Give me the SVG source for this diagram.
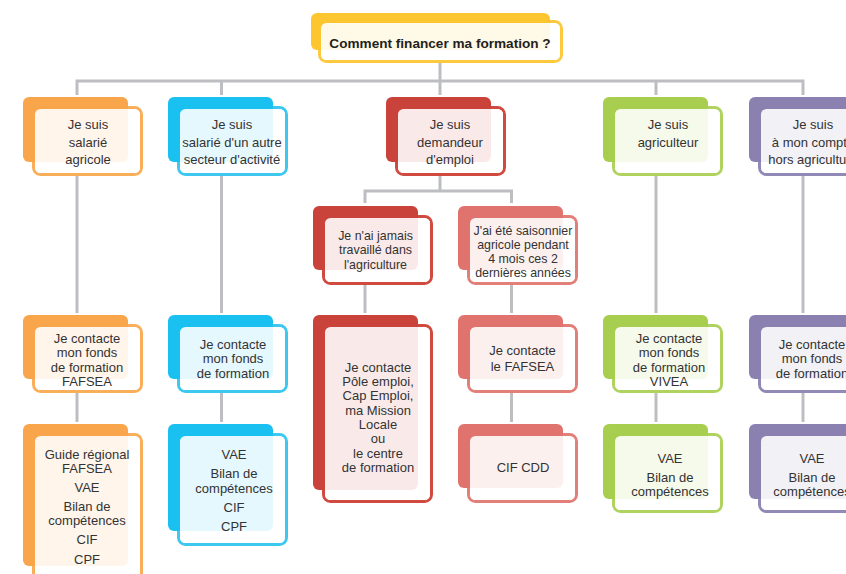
<svg xmlns="http://www.w3.org/2000/svg" width="846" height="574" viewBox="0 0 846 574">
<style>
.fr{fill:#fff;stroke-width:3}
.ov{fill:#fff;fill-opacity:0.89}
.t{font-family:"Liberation Sans",Arial,sans-serif;font-size:13px;fill:#333;text-anchor:middle}
.s{font-size:12.4px}
.title{font-family:"Liberation Sans",Arial,sans-serif;font-size:13.6px;font-weight:bold;fill:#231f20;text-anchor:middle}
.y .bk{fill:#fdc631}.y .fr{stroke:#fdc93f}
.o .bk{fill:#f9a54b}.o .fr{stroke:#f9ae5a}
.c .bk{fill:#1ac1f0}.c .fr{stroke:#3ec8f0}
.r .bk{fill:#c9433a}.r .fr{stroke:#d14a40}
.l .bk{fill:#e0736d}.l .fr{stroke:#e37f79}
.g .bk{fill:#a7ce4e}.g .fr{stroke:#b0d360}
.p .bk{fill:#8a81b0}.p .fr{stroke:#9189b6}
#connectors path{fill:none;stroke:#bdbec1;stroke-width:3}
</style>
<g id="connectors">
<path d="M440,63 V81"/>
<path d="M77,95 V81 H803 V95"/>
<path d="M221.5,81 V95"/>
<path d="M440,81 V95"/>
<path d="M656,81 V95"/>
<path d="M77,176 V313"/>
<path d="M221.5,176 V313"/>
<path d="M656,176 V313"/>
<path d="M803,176 V313"/>
<path d="M440,176 V191"/>
<path d="M365,203 V191 H511.5 V203"/>
<path d="M365,285 V313"/>
<path d="M511.5,285 V313"/>
<path d="M77,393 V422"/>
<path d="M221.5,393 V422"/>
<path d="M511.5,393 V422"/>
<path d="M656,393 V422"/>
<path d="M803,393 V422"/>
</g>
<g id="title" class="y">
<rect class="fr" x="319.5" y="21.5" width="242" height="40" rx="7"/>
<rect class="bk" x="311" y="13" width="239" height="37" rx="6"/>
<rect class="ov" x="321" y="23" width="239" height="37" rx="5.5"/>
<text class="title" x="440" y="48">Comment financer ma formation ?</text>
</g>
<g id="salarie-agricole" class="o">
<rect class="fr" x="33.5" y="107.5" width="108" height="67" rx="7"/>
<rect class="bk" x="23" y="97" width="105" height="65" rx="6"/>
<rect class="ov" x="35" y="109" width="105" height="64" rx="5.5"/>
<text class="t"><tspan x="88" y="129">Je suis</tspan><tspan x="88" y="146.5">salarié</tspan><tspan x="88" y="164">agricole</tspan></text>
</g>
<g id="salarie-autre" class="c">
<rect class="fr" x="178.5" y="107.5" width="108" height="67" rx="7"/>
<rect class="bk" x="168" y="97" width="105" height="65" rx="6"/>
<rect class="ov" x="180" y="109" width="105" height="64" rx="5.5"/>
<text class="t"><tspan x="232" y="129">Je suis</tspan><tspan x="232" y="146.5">salarié d'un autre</tspan><tspan x="232" y="164">secteur d'activité</tspan></text>
</g>
<g id="demandeur" class="r">
<rect class="fr" x="396.5" y="107.5" width="108" height="67" rx="7"/>
<rect class="bk" x="386" y="97" width="105" height="65" rx="6"/>
<rect class="ov" x="398" y="109" width="105" height="64" rx="5.5"/>
<text class="t"><tspan x="450" y="129">Je suis</tspan><tspan x="450" y="146.5">demandeur</tspan><tspan x="450" y="164">d'emploi</tspan></text>
</g>
<g id="agriculteur" class="g">
<rect class="fr" x="613.5" y="107.5" width="108" height="67" rx="7"/>
<rect class="bk" x="603" y="97" width="105" height="65" rx="6"/>
<rect class="ov" x="615" y="109" width="105" height="64" rx="5.5"/>
<text class="t"><tspan x="668" y="129">Je suis</tspan><tspan x="668" y="147">agriculteur</tspan></text>
</g>
<g id="a-mon-compte" class="p">
<rect class="fr" x="759.5" y="107.5" width="108" height="67" rx="7"/>
<rect class="bk" x="749" y="97" width="105" height="65" rx="6"/>
<rect class="ov" x="761" y="109" width="105" height="64" rx="5.5"/>
<text class="t"><tspan x="813" y="129">Je suis</tspan><tspan x="813" y="146.5">à mon compte</tspan><tspan x="813" y="164">hors agriculture</tspan></text>
</g>
<g id="jamais-travaille" class="r">
<rect class="fr" x="323.5" y="216.5" width="108" height="67" rx="7"/>
<rect class="bk" x="313" y="206" width="105" height="64" rx="6"/>
<rect class="ov" x="325" y="218" width="105" height="64" rx="5.5"/>
<text class="t s"><tspan x="375.5" y="239.5">Je n'ai jamais</tspan><tspan x="375.5" y="254">travaillé dans</tspan><tspan x="375.5" y="268.5">l'agriculture</tspan></text>
</g>
<g id="saisonnier" class="l">
<rect class="fr" x="468.5" y="216.5" width="108" height="67" rx="7"/>
<rect class="bk" x="458" y="206" width="105" height="64" rx="6"/>
<rect class="ov" x="470" y="218" width="105" height="64" rx="5.5"/>
<text class="t s"><tspan x="523" y="234.5">J'ai été saisonnier</tspan><tspan x="523" y="248.5">agricole pendant</tspan><tspan x="523" y="262.5">4 mois ces 2</tspan><tspan x="523" y="276.5">dernières années</tspan></text>
</g>
<g id="fonds-fafsea" class="o">
<rect class="fr" x="33.5" y="325.5" width="108" height="66" rx="7"/>
<rect class="bk" x="23" y="315" width="105" height="64" rx="6"/>
<rect class="ov" x="35" y="327" width="105" height="63" rx="5.5"/>
<text class="t"><tspan x="87" y="343">Je contacte</tspan><tspan x="87" y="357.3">mon fonds</tspan><tspan x="87" y="371.6">de formation</tspan><tspan x="87" y="385.9">FAFSEA</tspan></text>
</g>
<g id="fonds-autre" class="c">
<rect class="fr" x="178.5" y="325.5" width="108" height="66" rx="7"/>
<rect class="bk" x="168" y="315" width="105" height="64" rx="6"/>
<rect class="ov" x="180" y="327" width="105" height="63" rx="5.5"/>
<text class="t"><tspan x="233" y="349">Je contacte</tspan><tspan x="233" y="363.3">mon fonds</tspan><tspan x="233" y="377.6">de formation</tspan></text>
</g>
<g id="pole-emploi" class="r">
<rect class="fr" x="323.5" y="325.5" width="108" height="176" rx="7"/>
<rect class="bk" x="313" y="315" width="105" height="175" rx="6"/>
<rect class="ov" x="325" y="327" width="105" height="173" rx="5.5"/>
<text class="t"><tspan x="378" y="371.5">Je contacte</tspan><tspan x="378" y="385.9">Pôle emploi,</tspan><tspan x="378" y="400.2">Cap Emploi,</tspan><tspan x="378" y="414.6">ma Mission</tspan><tspan x="378" y="428.9">Locale</tspan><tspan x="378" y="443.3">ou</tspan><tspan x="378" y="457.6">le centre</tspan><tspan x="378" y="472">de formation</tspan></text>
</g>
<g id="contacte-fafsea" class="l">
<rect class="fr" x="468.5" y="325.5" width="108" height="66" rx="7"/>
<rect class="bk" x="458" y="315" width="105" height="64" rx="6"/>
<rect class="ov" x="470" y="327" width="105" height="63" rx="5.5"/>
<text class="t"><tspan x="522.5" y="355">Je contacte</tspan><tspan x="522.5" y="370.5">le FAFSEA</tspan></text>
</g>
<g id="fonds-vivea" class="g">
<rect class="fr" x="613.5" y="325.5" width="108" height="66" rx="7"/>
<rect class="bk" x="603" y="315" width="105" height="64" rx="6"/>
<rect class="ov" x="615" y="327" width="105" height="63" rx="5.5"/>
<text class="t"><tspan x="669" y="343">Je contacte</tspan><tspan x="669" y="357.3">mon fonds</tspan><tspan x="669" y="371.6">de formation</tspan><tspan x="669" y="385.9">VIVEA</tspan></text>
</g>
<g id="fonds-compte" class="p">
<rect class="fr" x="759.5" y="325.5" width="108" height="66" rx="7"/>
<rect class="bk" x="749" y="315" width="105" height="64" rx="6"/>
<rect class="ov" x="761" y="327" width="105" height="63" rx="5.5"/>
<text class="t"><tspan x="812" y="349">Je contacte</tspan><tspan x="812" y="363.3">mon fonds</tspan><tspan x="812" y="377.6">de formation</tspan></text>
</g>
<g id="dispositifs-agricole" class="o">
<rect class="fr" x="33.5" y="434.5" width="108" height="150" rx="7"/>
<rect class="bk" x="23" y="424" width="105" height="142" rx="6"/>
<rect class="ov" x="35" y="436" width="105" height="147" rx="5.5"/>
<text class="t"><tspan x="87" y="458.5">Guide régional</tspan><tspan x="87" y="472.5">FAFSEA</tspan><tspan x="87" y="491.5">VAE</tspan><tspan x="87" y="510.5">Bilan de</tspan><tspan x="87" y="525">compétences</tspan><tspan x="87" y="544">CIF</tspan><tspan x="87" y="563.5">CPF</tspan></text>
</g>
<g id="dispositifs-autre" class="c">
<rect class="fr" x="178.5" y="434.5" width="108" height="110" rx="7"/>
<rect class="bk" x="168" y="424" width="105" height="107" rx="6"/>
<rect class="ov" x="180" y="436" width="105" height="107" rx="5.5"/>
<text class="t"><tspan x="234" y="459.3">VAE</tspan><tspan x="234" y="478.3">Bilan de</tspan><tspan x="234" y="492.7">compétences</tspan><tspan x="234" y="511.7">CIF</tspan><tspan x="234" y="530.5">CPF</tspan></text>
</g>
<g id="cif-cdd" class="l">
<rect class="fr" x="468.5" y="434.5" width="108" height="67" rx="7"/>
<rect class="bk" x="458" y="424" width="105" height="64" rx="6"/>
<rect class="ov" x="470" y="436" width="105" height="64" rx="5.5"/>
<text class="t"><tspan x="523" y="471.7">CIF CDD</tspan></text>
</g>
<g id="dispositifs-agriculteur" class="g">
<rect class="fr" x="613.5" y="434.5" width="108" height="77" rx="7"/>
<rect class="bk" x="603" y="424" width="105" height="75" rx="6"/>
<rect class="ov" x="615" y="436" width="105" height="74" rx="5.5"/>
<text class="t"><tspan x="670" y="462.5">VAE</tspan><tspan x="670" y="481.5">Bilan de</tspan><tspan x="670" y="496">compétences</tspan></text>
</g>
<g id="dispositifs-compte" class="p">
<rect class="fr" x="759.5" y="434.5" width="108" height="77" rx="7"/>
<rect class="bk" x="749" y="424" width="105" height="75" rx="6"/>
<rect class="ov" x="761" y="436" width="105" height="74" rx="5.5"/>
<text class="t"><tspan x="812" y="462.5">VAE</tspan><tspan x="812" y="481.5">Bilan de</tspan><tspan x="812" y="496">compétences</tspan></text>
</g>
</svg>
